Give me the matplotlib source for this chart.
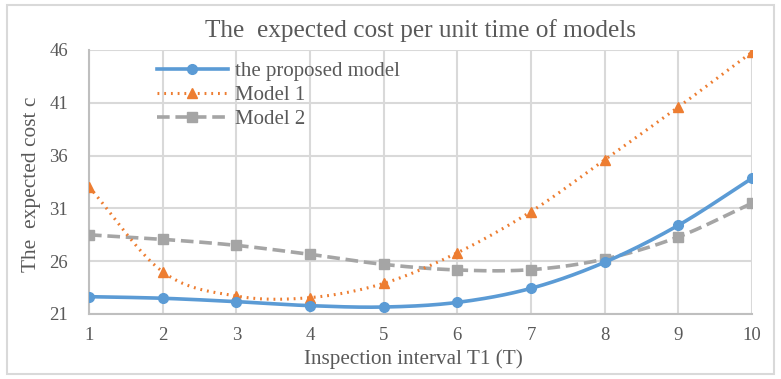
import numpy as np
import matplotlib
matplotlib.use("Agg")
import matplotlib.pyplot as plt
from matplotlib.patches import Rectangle
from matplotlib.lines import Line2D

x_vals = [1, 2, 3, 4, 5, 6, 7, 8, 9, 10]
proposed = [22.64, 22.49, 22.17, 21.79, 21.66, 22.10, 23.43, 25.90, 29.40, 33.85]
model1 = [33.05, 25.0, 22.7, 22.55, 23.9, 26.8, 30.7, 35.6, 40.6, 45.8]
model2 = [28.5, 28.07, 27.5, 26.65, 25.7, 25.17, 25.2, 26.2, 28.3, 31.5]
labels = ["the proposed model", "Model 1", "Model 2"]
yticks = [21, 26, 31, 36, 41, 46]

def smooth(xs, ys, n=30):
    xs = np.asarray(xs, float); ys = np.asarray(ys, float)
    px = np.concatenate([[2*xs[0]-xs[1]], xs, [2*xs[-1]-xs[-2]]])
    py = np.concatenate([[2*ys[0]-ys[1]], ys, [2*ys[-1]-ys[-2]]])
    ox, oy = [], []
    t = np.linspace(0, 1, n, endpoint=False)
    h00 = 2*t**3 - 3*t**2 + 1; h10 = t**3 - 2*t**2 + t
    h01 = -2*t**3 + 3*t**2; h11 = t**3 - t**2
    for i in range(1, len(px)-2):
        p0, p1, p2, p3 = (np.array([px[j], py[j]]) for j in range(i-1, i+3))
        m1 = (p2 - p0) / 2
        m2 = (p3 - p1) / 2
        pts = h00[:, None]*p1 + h10[:, None]*m1 + h01[:, None]*p2 + h11[:, None]*m2
        ox.extend(pts[:, 0]); oy.extend(pts[:, 1])
    ox.append(xs[-1]); oy.append(ys[-1])
    return np.array(ox), np.array(oy)

plt.rcParams['font.family'] = ['Liberation Serif', 'DejaVu Serif']
txt = '#595959'
fig = plt.figure(figsize=(7.81, 3.79), dpi=100)
fig.patches.append(Rectangle((0.009, 0.013), 0.982, 0.974, transform=fig.transFigure,
                             fill=False, edgecolor='#D9D9D9', linewidth=1.5))
ax = fig.add_axes([89/781, 1-314/379, (752-89)/781, (314-50)/379])

blue, orange, gray = '#5B9BD5', '#ED7D31', '#A5A5A5'
sx, sy = smooth(x_vals, model2)
ax.plot(sx, sy, color=gray, lw=2.6, ls=(0, (3.5, 1.6)), zorder=3)
ax.plot(x_vals, model2, ls='none', marker='s', ms=7, color=gray, zorder=4)
sx, sy = smooth(x_vals, model1)
ax.plot(sx, sy, color=orange, lw=2.2, ls=(0, (0.6, 1.6)), zorder=3)
ax.plot(x_vals, model1, ls='none', marker='^', ms=7.5, color=orange, zorder=4)
sx, sy = smooth(x_vals, proposed)
ax.plot(sx, sy, color=blue, lw=2.6, zorder=5, solid_capstyle='round')
ax.plot(x_vals, proposed, ls='none', marker='o', ms=7, color=blue, zorder=6)

h1 = Line2D([], [], color=blue, lw=2.6, marker='o', ms=7)
h2 = Line2D([], [], color=orange, lw=2.2, ls=(0, (0.6, 1.6)), marker='^', ms=7.5)
h3 = Line2D([], [], color=gray, lw=2.6, ls=(0, (3.5, 1.6)), marker='s', ms=7)
leg = ax.legend([h1, h2, h3], labels, loc='upper left', bbox_to_anchor=(0.085, 1.0),
                frameon=False, fontsize=15, handlelength=3.4, handletextpad=0.35,
                labelspacing=0.22, borderaxespad=0.15)
for t in leg.get_texts():
    t.set_color(txt)

ax.set_xlim(1, 10)
ax.set_ylim(21, 46)
ax.set_xticks(x_vals)
ax.set_yticks(yticks)
ax.grid(True, color='#D9D9D9', lw=1.5)
ax.set_axisbelow(True)
for s in ['top', 'right']:
    ax.spines[s].set_visible(False)
for s in ['left', 'bottom']:
    ax.spines[s].set_color('#BFBFBF')
    ax.spines[s].set_linewidth(1.5)
ax.tick_params(length=0, labelsize=13.5, labelcolor=txt)
ax.tick_params(axis='x', pad=9)
ax.tick_params(axis='y', pad=15)
ax.set_xlabel('Inspection interval T1 (T)', fontsize=15.2, color=txt)
ax.xaxis.set_label_coords(0.49, -0.19)
ax.xaxis.label.set_va('baseline')
ax.set_ylabel('The  expected cost c', fontsize=15.4, color=txt)
ax.yaxis.set_label_coords(-0.087, 0.49)
ax.yaxis.label.set_va('center')
fig.text(0.539, 1-31/379, 'The  expected cost per unit time of models', fontsize=18.2,
         color=txt, ha='center', va='center')
fig.savefig('out.png', dpi=100)
